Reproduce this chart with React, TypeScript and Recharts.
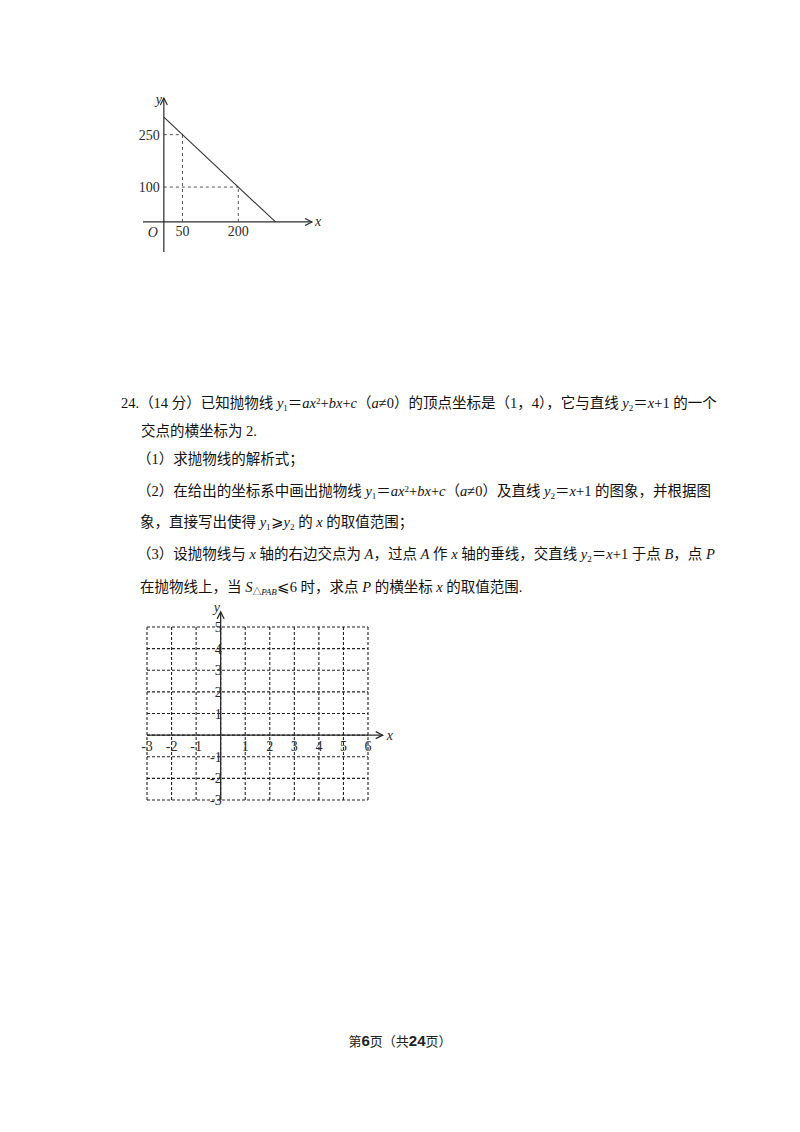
import React from "react";
import {
  LineChart,
  Line,
  XAxis,
  YAxis,
  ReferenceLine,
  ReferenceDot,
  CartesianGrid,
} from "recharts";

// 上图：直线 y = 300 - x，以及两条虚线标注的点
const lineX = [0, 300];
const lineY = [300, 0];
const markX = [50, 200];
const markY = [250, 100];

// 下图：坐标网格
const gridX = [-3, -2, -1, 0, 1, 2, 3, 4, 5, 6];
const gridY = [-3, -2, -1, 0, 1, 2, 3, 4, 5];

const PAGE_FONT = "'Liberation Serif', 'Noto Sans CJK SC', serif";
const CHART_FONT = "'Liberation Serif', 'DejaVu Serif', serif";
const INK = "#2a2a2a";

// 坐标轴箭头，画在 ReferenceLine 的末端
const axisArrow =
  (dir: "right" | "up", name: string, nx: number, ny: number) =>
  (props: any) => {
    const vb = props.viewBox || {};
    const x0 = Math.min(vb.x, vb.x + (vb.width || 0));
    const x1 = Math.max(vb.x, vb.x + (vb.width || 0));
    const y0 = Math.min(vb.y, vb.y + (vb.height || 0));
    const pts =
      dir === "right"
        ? `${x1 - 7},${vb.y - 3.5} ${x1},${vb.y} ${x1 - 7},${vb.y + 3.5}`
        : `${vb.x - 3.5},${y0 + 7} ${vb.x},${y0} ${vb.x + 3.5},${y0 + 7}`;
    const tx = dir === "right" ? x1 + nx : x0 + nx;
    const ty = dir === "right" ? vb.y + ny : y0 + ny;
    return (
      <g>
        <polyline points={pts} fill="none" stroke={INK} strokeWidth={1.2} />
        <text
          x={tx}
          y={ty}
          fontFamily={CHART_FONT}
          fontStyle="italic"
          fontSize={14}
          fill={INK}
        >
          {name}
        </text>
      </g>
    );
  };

const topData = lineX.map((x, i) => ({ x, y: lineY[i] }));
const TOP_X: [number, number] = [-56, 398];
const TOP_Y: [number, number] = [-86, 355];

const TopChart = () => (
  <LineChart
    width={250}
    height={200}
    data={topData}
    margin={{ top: 18, right: 38, bottom: 28, left: 43 }}
  >
    <XAxis dataKey="x" type="number" domain={TOP_X} hide allowDataOverflow />
    <YAxis type="number" domain={TOP_Y} hide allowDataOverflow />
    <ReferenceLine
      segment={[{ x: TOP_X[0], y: 0 }, { x: TOP_X[1], y: 0 }]}
      stroke={INK}
      strokeWidth={1.2}
      ifOverflow="visible"
      label={axisArrow("right", "x", 3, 4)}
    />
    <ReferenceLine
      segment={[{ x: 0, y: TOP_Y[0] }, { x: 0, y: TOP_Y[1] }]}
      stroke={INK}
      strokeWidth={1.2}
      ifOverflow="visible"
      label={axisArrow("up", "y", -8, 6)}
    />
    {markX.map((mx, i) => (
      <ReferenceLine
        key={"h" + mx}
        segment={[{ x: 0, y: markY[i] }, { x: mx, y: markY[i] }]}
        stroke="#555"
        strokeDasharray="3 3"
        ifOverflow="visible"
        label={{
          value: String(markY[i]),
          position: "left",
          offset: 4,
          fontSize: 14,
          fontFamily: CHART_FONT,
          fill: INK,
        }}
      />
    ))}
    {markX.map((mx, i) => (
      <ReferenceLine
        key={"v" + mx}
        segment={[{ x: mx, y: 0 }, { x: mx, y: markY[i] }]}
        stroke="#555"
        strokeDasharray="3 3"
        ifOverflow="visible"
        label={{
          value: String(mx),
          position: "bottom",
          offset: 4,
          fontSize: 14,
          fontFamily: CHART_FONT,
          fill: INK,
        }}
      />
    ))}
    <ReferenceDot
      x={0}
      y={0}
      r={0}
      ifOverflow="visible"
      label={(p: any) => (
        <text
          x={p.viewBox.x - 11}
          y={p.viewBox.y + 15}
          textAnchor="middle"
          fontFamily={CHART_FONT}
          fontStyle="italic"
          fontSize={14}
          fill={INK}
        >
          O
        </text>
      )}
    />
    <Line
      dataKey="y"
      stroke="#333"
      strokeWidth={1.1}
      dot={false}
      isAnimationActive={false}
    />
  </LineChart>
);

// 下图尺寸
const B_W = 221;
const B_H = 173;
const bX: [number, number] = [gridX[0], gridX[gridX.length - 1]];
const bY: [number, number] = [gridY[0], gridY[gridY.length - 1]];

// 刻度数字贴着 x 轴、y 轴（而不是图的边框）
const xTickLabel = (v: number) => (p: any) => (
  <text
    x={p.viewBox.x}
    y={p.viewBox.y + 16}
    textAnchor="middle"
    fontFamily={CHART_FONT}
    fontSize={14}
    fill={INK}
  >
    {v}
  </text>
);
const yTickLabel = (v: number) => (p: any) => (
  <text
    x={p.viewBox.x + 1}
    y={p.viewBox.y + 5}
    textAnchor="end"
    fontFamily={CHART_FONT}
    fontSize={14}
    fill={INK}
  >
    {v}
  </text>
);

const GridChart = () => (
  <LineChart
    width={30 + B_W + 35}
    height={35 + B_H + 20}
    data={gridX.map((x) => ({ x }))}
    margin={{ top: 35, right: 35, bottom: 20, left: 30 }}
  >
    <CartesianGrid stroke="#222" strokeDasharray="3 2" strokeWidth={1.1} />
    <XAxis
      dataKey="x"
      type="number"
      domain={bX}
      ticks={gridX}
      interval={0}
      hide
      allowDataOverflow
    />
    <YAxis
      type="number"
      domain={bY}
      ticks={gridY}
      interval={0}
      hide
      allowDataOverflow
    />
    <ReferenceLine
      segment={[{ x: bX[0], y: 0 }, { x: bX[1] + 0.6, y: 0 }]}
      stroke={INK}
      strokeWidth={1.3}
      ifOverflow="visible"
      label={axisArrow("right", "x", 4, 5)}
    />
    <ReferenceLine
      segment={[{ x: 0, y: bY[0] }, { x: 0, y: bY[1] + 0.7 }]}
      stroke={INK}
      strokeWidth={1.3}
      ifOverflow="visible"
      label={axisArrow("up", "y", -7, 0)}
    />
    {gridX
      .filter((v) => v !== 0)
      .map((v) => (
        <ReferenceDot
          key={"xt" + v}
          x={v}
          y={0}
          r={0}
          ifOverflow="visible"
          label={xTickLabel(v)}
        />
      ))}
    {gridY
      .filter((v) => v !== 0)
      .map((v) => (
        <ReferenceDot
          key={"yt" + v}
          x={0}
          y={v}
          r={0}
          ifOverflow="visible"
          label={yTickLabel(v)}
        />
      ))}
  </LineChart>
);

const I = ({ children }: { children: React.ReactNode }) => (
  <span style={{ fontStyle: "italic" }}>{children}</span>
);
const Sub = ({ children }: { children: React.ReactNode }) => (
  <span style={{ fontSize: "0.62em", position: "relative", top: "0.3em" }}>
    {children}
  </span>
);
const Sup = ({ children }: { children: React.ReactNode }) => (
  <span style={{ fontSize: "0.62em", position: "relative", top: "-0.5em" }}>
    {children}
  </span>
);

const TextLine = ({
  left,
  cy,
  width,
  children,
}: {
  left: number;
  cy: number;
  width?: number;
  children: React.ReactNode;
}) => (
  <div
    style={{
      position: "absolute",
      left,
      top: cy - 10,
      height: 20,
      lineHeight: "20px",
      width: width ?? "auto",
      whiteSpace: "nowrap",
      textAlign: width ? "justify" : "left",
      textAlignLast: width ? "justify" : "auto",
      fontFamily: PAGE_FONT,
      fontSize: 14.5,
      color: "#111",
    }}
  >
    {children}
  </div>
);

export default function App() {
  return (
    <div
      style={{
        position: "absolute",
        left: 0,
        top: 0,
        width: 800,
        height: 1132,
        background: "#fff",
        overflow: "hidden",
      }}
    >
      <div style={{ position: "absolute", left: 100, top: 80 }}>
        <TopChart />
      </div>

      <TextLine left={121} cy={403} width={556}>
        24.（14 分）已知抛物线 <I>y</I>
        <Sub>1</Sub>＝<I>ax</I>
        <Sup>2</Sup>+<I>bx</I>+<I>c</I>（<I>a</I>≠0）的顶点坐标是（1，4），它与直线 <I>y</I>
        <Sub>2</Sub>＝<I>x</I>+1 的一个
      </TextLine>
      <TextLine left={141} cy={431}>
        交点的横坐标为 2.
      </TextLine>
      <TextLine left={137} cy={459}>
        （1）求抛物线的解析式；
      </TextLine>
      <TextLine left={137} cy={491} width={540}>
        （2）在给出的坐标系中画出抛物线 <I>y</I>
        <Sub>1</Sub>＝<I>ax</I>
        <Sup>2</Sup>+<I>bx</I>+<I>c</I>（<I>a</I>≠0）及直线 <I>y</I>
        <Sub>2</Sub>＝<I>x</I>+1 的图象，并根据图
      </TextLine>
      <TextLine left={140} cy={522}>
        象，直接写出使得 <I>y</I>
        <Sub>1</Sub>⩾<I>y</I>
        <Sub>2</Sub> 的 <I>x</I> 的取值范围；
      </TextLine>
      <TextLine left={137} cy={554} width={540}>
        （3）设抛物线与 <I>x</I> 轴的右边交点为 <I>A</I>，过点 <I>A</I> 作 <I>x</I> 轴的垂线，交直线 <I>y</I>
        <Sub>2</Sub>＝<I>x</I>+1 于点 <I>B</I>，点 <I>P</I>
      </TextLine>
      <TextLine left={140} cy={587}>
        在抛物线上，当 <I>S</I>
        <Sub>
          △<I>PAB</I>
        </Sub>
        ⩽6 时，求点 <I>P</I> 的横坐标 <I>x</I> 的取值范围.
      </TextLine>

      <div style={{ position: "absolute", left: 117, top: 592 }}>
        <GridChart />
      </div>

      <div
        style={{
          position: "absolute",
          left: 0,
          width: 800,
          top: 1031,
          height: 20,
          lineHeight: "20px",
          textAlign: "center",
          fontFamily: "'Noto Sans CJK SC', sans-serif",
          fontSize: 13,
          color: "#222",
        }}
      >
        第
        <b style={{ fontFamily: "'Liberation Sans', Arial, sans-serif", fontSize: 15 }}>6</b>
        页（共
        <b style={{ fontFamily: "'Liberation Sans', Arial, sans-serif", fontSize: 15 }}>24</b>
        页）
      </div>
    </div>
  );
}
